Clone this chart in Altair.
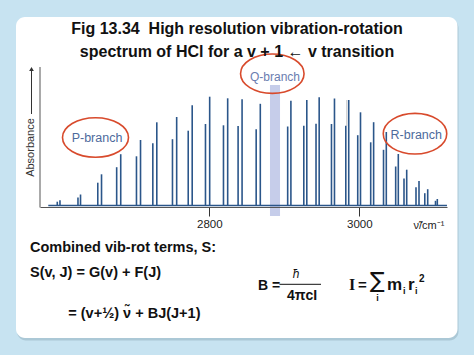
import altair as alt
import pandas as pd

# ---- data (wavenumber / cm^-1, relative absorbance) ----
# P branch: H37Cl (weaker, lower) and H35Cl (stronger) components
p_nu_37 = [2597.3, 2624.9, 2651.3, 2676.5, 2702.9, 2724.7, 2750.9, 2771.9, 2794.9, 2818.9, 2838.4, 2862.5]
p_abs_37 = [3.8, 8.0, 22.8, 38.3, 49.2, 62.3, 66.3, 74.8, 81.5, 80.2, 79.5, 76.3]
p_nu_35 = [2600.9, 2628.3, 2656.3, 2681.9, 2708.3, 2730.0, 2756.5, 2777.2, 2800.5, 2824.5, 2843.7, 2868.0]
p_abs_35 = [5.3, 11.0, 31.2, 51.3, 65.5, 83.2, 88.5, 100.2, 108.8, 107.2, 106.2, 101.7]
# R branch
r_nu_37 = [2904.5, 2926.0, 2942.3, 2962.9, 2982.0, 2997.9, 3015.2, 3032.3, 3048.5, 3059.6, 3075.6, 3087.3, 3101.6]
r_abs_37 = [79.0, 79.7, 81.7, 81.5, 79.7, 70.3, 63.2, 55.7, 39.0, 27.0, 18.2, 12.3, 4.7]
r_nu_35 = [2908.8, 2930.0, 2946.5, 2966.9, 2985.9, 3001.6, 3019.1, 3036.0, 3052.0, 3063.2, 3079.6, 3091.2, 3104.0]
r_abs_35 = [104.7, 105.5, 108.2, 107.0, 105.5, 93.2, 83.3, 73.5, 51.5, 35.8, 24.5, 16.3, 6.5]
# Q-branch gap (shaded band)
q_band_nu = [2880.9, 2894.3]
q_band_abs = [-10.5, 120.5]
# dotted marker line
dotted_nu = [2983.3]
dotted_abs = [80.0, 106.0]
# spectrum baseline extent
baseline_nu = [2585.3, 3116.9]
# axis
x_ticks = [2800, 3000]
x_domain = [2574.27, 3116.93]
y_domain = [-1.5, 145.5]

title_lines = ["Fig 13.34\u00a0 High resolution vibration-rotation",
               "spectrum of HCl for a v + 1 \u2190 v transition"]

FONT = "Liberation Sans"
LINE = "#2b568a"
RED = "#d84a2c"
LAB = "#4d6a9c"

lines_df = pd.DataFrame({
    "nu": p_nu_37 + p_nu_35 + r_nu_37 + r_nu_35,
    "abs": p_abs_37 + p_abs_35 + r_abs_37 + r_abs_35,
})
lines_df["zero"] = 0.0

xs = alt.Scale(domain=x_domain, nice=False, zero=False)
ys = alt.Scale(domain=y_domain, nice=False, zero=False)

dummy = pd.DataFrame({"d": [0]})


def txt(s, x, y, size, weight="bold", align="left", font=FONT, color="#111",
        angle=0, style="normal", baseline="alphabetic"):
    return alt.Chart(dummy).mark_text(
        text=s, align=align, baseline=baseline, fontSize=size, fontWeight=weight,
        font=font, color=color, angle=angle, fontStyle=style
    ).encode(x=alt.value(x), y=alt.value(y))


shadow = alt.Chart(dummy).mark_rect(fill="#9fbccb", opacity=0.7, cornerRadius=9).encode(
    x=alt.value(-23), x2=alt.value(418.5), y=alt.value(-41), y2=alt.value(280.5))
card = alt.Chart(dummy).mark_rect(fill="white", cornerRadius=9).encode(
    x=alt.value(-24), x2=alt.value(417.5), y=alt.value(-43), y2=alt.value(278))

x_axis = alt.Axis(values=x_ticks, title=None, format="d", labelFontSize=11.5, labelFont=FONT,
                  labelColor="#222", tickSize=9, tickColor="#333", tickWidth=1,
                  domainColor="#555", domainWidth=1, labelPadding=2, grid=False, zindex=1)

qband = alt.Chart(pd.DataFrame({"x1": [q_band_nu[0]], "x2": [q_band_nu[1]],
                                "y1": [q_band_abs[0]], "y2": [q_band_abs[1]]})).mark_rect(
    color="#c6cdea", clip=False).encode(
    x=alt.X("x1:Q", scale=xs, axis=x_axis),
    x2="x2:Q",
    y=alt.Y("y1:Q", scale=ys, axis=None),
    y2="y2:Q",
)

base_line = alt.Chart(pd.DataFrame({"a": [baseline_nu[0]], "b": [baseline_nu[1]], "y": [0.0]})).mark_rule(
    color=LINE, strokeWidth=1.6).encode(x=alt.X("a:Q", scale=xs, axis=x_axis), x2="b:Q",
                                        y=alt.Y("y:Q", scale=ys, axis=None))

spec = alt.Chart(lines_df).mark_rule(color=LINE, strokeWidth=1.6).encode(
    x=alt.X("nu:Q", scale=xs, axis=x_axis), y=alt.Y("zero:Q", scale=ys, axis=None), y2="abs:Q")

dotted = alt.Chart(pd.DataFrame({"x": dotted_nu, "y1": [dotted_abs[0]], "y2": [dotted_abs[1]]})).mark_rule(
    color="#8a8a8a", strokeWidth=1, strokeDash=[1, 1]).encode(
    x=alt.X("x:Q", scale=xs, axis=x_axis), y=alt.Y("y1:Q", scale=ys, axis=None), y2="y2:Q")

left_frame = alt.Chart(dummy).mark_rule(color="#555", strokeWidth=1).encode(
    x=alt.value(0), y=alt.value(7), y2=alt.value(147.5))


def ellipse(cx, cy, w, ratio):
    path = f"M -1 0 A 1 {ratio} 0 1 1 1 0 A 1 {ratio} 0 1 1 -1 0 Z"
    return alt.Chart(dummy).mark_point(shape=path, size=w * w, filled=False, stroke=RED,
                                       strokeWidth=1.6, opacity=1).encode(
        x=alt.value(cx), y=alt.value(cy))


ell_p = ellipse(55.5, 77.5, 66, 0.60)
ell_q = ellipse(232.3, 13.7, 63.5, 0.62)
ell_r = ellipse(375, 73.7, 63.5, 0.64)

lab_p = txt("P-branch", 57, 78.3, 12.5, weight="normal", align="center", color=LAB, baseline="middle")
lab_q = txt("Q-branch", 235, 17.3, 12, weight="normal", align="center", color="#6a7db0", baseline="middle")
lab_r = txt("R-branch", 376.3, 75, 12.5, weight="normal", align="center", color=LAB, baseline="middle")

absorb = txt("Absorbance", -9, 87.5, 11, weight="normal", align="center", color="#333",
             angle=270, baseline="middle")
arrow_line = alt.Chart(dummy).mark_rule(color="#333", strokeWidth=1).encode(
    x=alt.value(-8.5), y=alt.value(11), y2=alt.value(54))
arrow_head = alt.Chart(dummy).mark_point(shape="triangle-up", size=22, filled=True, color="#333",
                                         opacity=1).encode(x=alt.value(-8.5), y=alt.value(9))

xlab = txt("\u03bd\u0303/cm\u207b\u00b9", 389, 169, 11, weight="normal", align="center", color="#222")

t1 = txt(title_lines[0], 197, -26.2, 16, align="center")
t2 = txt(title_lines[1], 197, -2.7, 16, align="center")

e1 = txt("Combined vib-rot terms, S:", -10, 191.7, 14.5)
e2 = txt("S(v, J) = G(v) + F(J)", -10, 217, 14.5)
e3 = txt("= (v+\u00bd) \u03bd\u0303 + BJ(J+1)", 28.3, 258.3, 14.5)

b1 = txt("B =", 218, 230, 14)
b_bar = alt.Chart(dummy).mark_rule(color="#111", strokeWidth=1).encode(
    x=alt.value(239.5), x2=alt.value(281), y=alt.value(224.3))
b_num = txt("\u0127", 256, 218, 12, weight="normal", align="center", style="italic")
b_den = txt("4\u03c0cI", 262, 240, 14, align="center")

i1 = txt("I", 309, 230, 16, font="Liberation Serif")
i_eq = txt("=", 318, 230, 15)
i_sum = txt("\u2211", 337.5, 228, 22, weight="normal", align="center", font="DejaVu Sans")
i_sub = txt("i", 337.5, 241, 9, align="center")
i_m = txt("m", 347, 230, 17)
i_mi = txt("i", 363, 234, 9)
i_r = txt("r", 368, 230, 17)
i_ri = txt("i", 375, 234, 9)
i_2 = txt("2", 379, 222, 10)

chart = alt.layer(
    shadow, card, qband, base_line, spec, dotted, left_frame,
    ell_p, ell_q, ell_r, lab_p, lab_q, lab_r,
    absorb, arrow_line, arrow_head, xlab, t1, t2, e1, e2, e3,
    b1, b_bar, b_num, b_den, i1, i_eq, i_sum, i_sub, i_m, i_mi, i_r, i_ri, i_2
).properties(
    width=407, height=147,
    padding={"left": 40, "top": 60, "right": 27, "bottom": 148},
    autosize="none",
    background="#c7e3f1",
).configure_view(stroke=None)

chart.save("out.html", embed_options={"renderer": "svg", "actions": False})
